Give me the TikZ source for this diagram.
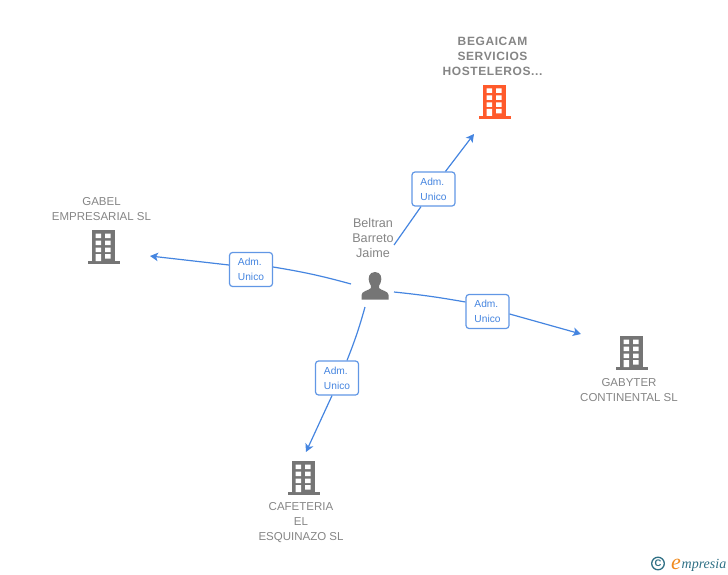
\documentclass[tikz,border=0pt]{standalone}
\usepackage{fontspec}
\setmainfont{Liberation Sans}
\newfontfamily\logofont{Liberation Serif}
\usetikzlibrary{arrows.meta}
\definecolor{icongray}{HTML}{757575}
\definecolor{textgray}{HTML}{858585}
\definecolor{iconorange}{HTML}{FF5A2B}
\definecolor{linkblue}{HTML}{4585E0}
\definecolor{logoteal}{HTML}{2F7085}
\definecolor{logoorange}{HTML}{F08A1D}
\tikzset{
  conn/.style={draw=linkblue,line width=1.2pt},
  arrowconn/.style={conn,-{Stealth[length=8pt,width=8.5pt,inset=2pt]}},
  linklabel/.style={draw=linkblue!85,fill=white,rounded corners=3pt,line width=1.2pt,minimum width=43pt,minimum height=34pt,inner sep=0pt,align=left,font=\fontsize{10.2}{15}\selectfont,text=linkblue},
  orglabel/.style={align=center,font=\fontsize{11.5}{15}\selectfont,text=textgray,inner sep=0pt},
  orgbold/.style={orglabel,font=\fontsize{12}{15}\selectfont\bfseries\addfontfeatures{LetterSpace=5}},
  personlabel/.style={align=center,font=\fontsize{12.6}{15}\selectfont,text=textgray,inner sep=0pt},
  bldg/.style={minimum width=32pt,minimum height=34pt,inner sep=0pt},
  pics/building/.style={code={
    \fill[#1] (-11.5,-17) rectangle (11.5,15);
    \fill[#1] (-16,14) rectangle (16,17);
    \fill[white]
      (-8,-13.5) rectangle (-2.5,-9) (1.5,-13.5) rectangle (7,-9)
      (-8,-6.5) rectangle (-2.5,-2) (1.5,-6.5) rectangle (7,-2)
      (-8,0.5) rectangle (-2.5,5) (1.5,0.5) rectangle (7,5)
      (-8,7) rectangle (-2.5,14) (1.5,7) rectangle (7,11.5);
  }},
}
\begin{document}
\begin{tikzpicture}[x=1pt,y=-1pt]
\useasboundingbox (0,0) rectangle (728,575);

% buildings
\node[bldg] (bBegaicam) at (494.5,102) {};
\pic at (bBegaicam.center) {building=iconorange};
\node[bldg] (bGabel) at (103.5,247) {};
\pic at (bGabel.center) {building=icongray};
\node[bldg] (bGabyter) at (631.5,353) {};
\pic at (bGabyter.center) {building=icongray};
\node[bldg] (bCafeteria) at (303.5,478) {};
\pic at (bCafeteria.center) {building=icongray};

% person
\node[minimum width=30pt,minimum height=30pt,inner sep=0pt] (person) at (375,286) {};
\fill[icongray] (361.5,299.5) -- (388.5,299.5) -- (388.5,295)
  .. controls (388.5,291) and (381,290.5) .. (379,288)
  .. controls (378.3,286.5) and (379.5,285) .. (380.5,283)
  .. controls (382.5,278) and (381,272) .. (375,272)
  .. controls (369,272) and (367.5,278) .. (369.5,283)
  .. controls (370.5,285) and (371.7,286.5) .. (371,288)
  .. controls (369,290.5) and (361.5,291) .. (361.5,295) -- cycle;

% texts
\node[orgbold] (tBegaicam) at (492.5,56) {BEGAICAM\\SERVICIOS\\HOSTELEROS...};
\node[orglabel] (tGabel) at (101.5,209) {GABEL\\EMPRESARIAL SL};
\node[orglabel] (tGabyter) at (629,390) {GABYTER\\CONTINENTAL SL};
\node[orglabel] (tCafeteria) at (301,522.5) {CAFETERIA\\EL\\ESQUINAZO SL};
\node[personlabel] (tPerson) at (373,238) {Beltran\\Barreto\\Jaime};

% link labels
\node[linklabel] (lTop) at (433.5,189) {Adm.\\Unico};
\node[linklabel] (lLeft) at (251,269.5) {Adm.\\Unico};
\node[linklabel] (lRight) at (487.5,311.5) {Adm.\\Unico};
\node[linklabel] (lBottom) at (337,378) {Adm.\\Unico};

% connector ends
\coordinate (sTop) at (394,245);
\coordinate (eTop) at (474,134);
\coordinate (sLeft) at (351,284);
\coordinate (eLeft) at (150,256);
\coordinate (sRight) at (394,292);
\coordinate (eRight) at (581,334);
\coordinate (sBottom) at (365,307);
\coordinate (eBottom) at (306,452);

% connectors
\draw[conn] (sTop) -- ([xshift=-12.5pt]lTop.south);
\draw[arrowconn] ([xshift=12pt]lTop.north) -- (eTop);
\draw[conn] (sLeft) to[bend right=3] ([yshift=2.5pt]lLeft.east);
\draw[arrowconn] ([yshift=4.5pt]lLeft.west) -- (eLeft);
\draw[conn] (sRight) to[bend left=2] ([yshift=9.5pt]lRight.west);
\draw[arrowconn] ([yshift=-2.5pt]lRight.east) -- (eRight);
\draw[conn] (sBottom) to[bend left=3] ([xshift=10pt]lBottom.north);
\draw[arrowconn] ([xshift=-5pt]lBottom.south) -- (eBottom);

% logo
\draw[logoteal,line width=1.3pt] (658,563.5) circle (6.3pt);
\node[inner sep=0pt,text=logoteal,font=\fontsize{9.5}{10}\selectfont\bfseries] (logoC) at (658,563.5) {C};
\node[inner sep=0pt,anchor=base west,text=logoorange,font=\logofont\itshape\fontsize{22}{22}\selectfont] (logoE) at (671,569) {e};
\node[inner sep=0pt,anchor=base west,text=logoteal,font=\logofont\itshape\fontsize{14}{14}\selectfont] (logoT) at (681.5,568) {mpresia};
\end{tikzpicture}
\end{document}
